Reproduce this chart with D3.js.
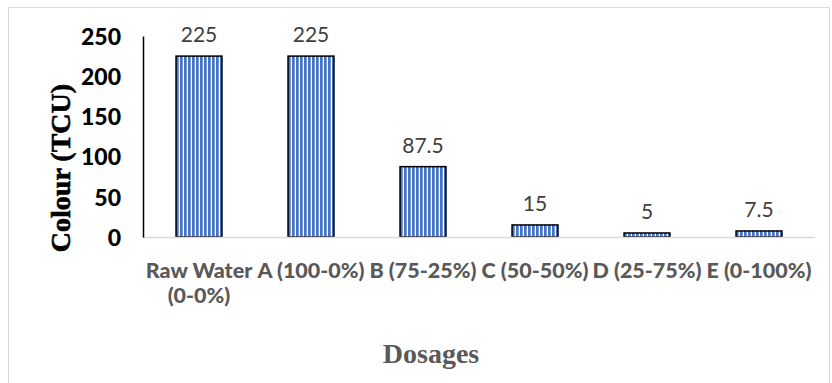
<!DOCTYPE html>
<html>
<head>
<meta charset="utf-8">
<script src="https://cdn.jsdelivr.net/npm/d3@7"></script>
<style>
  html, body { margin: 0; padding: 0; background: #fff; }
  svg { display: block; }
</style>
</head>
<body>
<svg id="chart" width="832" height="383"></svg>
<script>
// Colour readings per dosage mix
const categories = [["Raw Water", "(0-0%)"], ["A (100-0%)"], ["B (75-25%)"], ["C (50-50%)"], ["D (25-75%)"], ["E (0-100%)"]];
const colourTCU = [225, 225, 87.5, 15, 5, 7.5];
const valueLabels = ["225", "225", "87.5", "15", "5", "7.5"];
const yTicks = [0, 50, 100, 150, 200, 250];

const svg = d3.select("#chart");
const plot = { left: 143, right: 815, top: 36, bottom: 237 };

// Chart area frame
svg.append("rect")
  .attr("x", 8.5).attr("y", 7.5)
  .attr("width", 821).attr("height", 380)
  .attr("fill", "#fff").attr("stroke", "#d9d9d9").attr("stroke-width", 1);

// Vertical stripe fill for the bars
const defs = svg.append("defs");
const pat = defs.append("pattern")
  .attr("id", "stripes")
  .attr("patternUnits", "userSpaceOnUse")
  .attr("width", 4).attr("height", 10)
  .attr("x", 0);
pat.append("rect").attr("width", 4).attr("height", 10).attr("fill", "#ffffff");
pat.append("rect").attr("width", 2.7).attr("height", 10).attr("fill", "#4472C4");

const x = d3.scaleBand()
  .domain(d3.range(categories.length))
  .range([plot.left, plot.right])
  .paddingInner(0.59)
  .paddingOuter(0.295);

const y = d3.scaleLinear()
  .domain([0, 250])
  .range([plot.bottom, plot.top]);

// Bars
svg.append("g").selectAll("rect")
  .data(colourTCU)
  .join("rect")
  .attr("x", (d, i) => x(i))
  .attr("y", d => y(d))
  .attr("width", x.bandwidth())
  .attr("height", d => y(0) - y(d))
  .attr("fill", "url(#stripes)")
  .attr("stroke", "#000")
  .attr("stroke-width", 1.5);

// Category baseline
svg.append("line")
  .attr("x1", plot.left).attr("x2", plot.right)
  .attr("y1", y(0) + 0.5).attr("y2", y(0) + 0.5)
  .attr("stroke", "#d9d9d9").attr("stroke-width", 1.5);

// Value axis
const yAxis = d3.axisLeft(y).tickValues(yTicks).tickSize(0).tickPadding(22);
const gy = svg.append("g")
  .attr("transform", `translate(${plot.left},0)`)
  .call(yAxis);
gy.select(".domain").attr("stroke", "#000").attr("stroke-width", 1.5);
gy.selectAll("text")
  .attr("font-family", "Lato, 'Noto Sans', sans-serif")
  .attr("font-weight", "900")
  .attr("font-size", "23px")
  .attr("fill", "#000")
  .attr("dy", "0.36em");

// Value labels above bars
svg.append("g").selectAll("text")
  .data(colourTCU)
  .join("text")
  .attr("x", (d, i) => x(i) + x.bandwidth() / 2)
  .attr("y", d => y(d) - 14)
  .attr("text-anchor", "middle")
  .attr("font-family", "Lato, 'Noto Sans', sans-serif")
  .attr("font-size", "21px")
  .attr("fill", "#404040")
  .text((d, i) => valueLabels[i]);

// Category labels
const cat = svg.append("g").selectAll("text")
  .data(categories)
  .join("text")
  .attr("x", (d, i) => x(i) + x.bandwidth() / 2)
  .attr("y", 278)
  .attr("text-anchor", "middle")
  .attr("font-family", "Lato, 'Noto Sans', sans-serif")
  .attr("font-weight", "900")
  .attr("font-size", "21.5px")
  .attr("fill", "#595959");
cat.selectAll("tspan")
  .data(d => d)
  .join("tspan")
  .attr("x", function () { return this.parentNode.getAttribute("x"); })
  .attr("dy", (d, i) => i === 0 ? 0 : 25)
  .text(d => d);

// Axis titles
svg.append("text")
  .attr("transform", `translate(70,168) rotate(-90)`)
  .attr("text-anchor", "middle")
  .attr("font-family", "'Liberation Serif', 'DejaVu Serif', serif")
  .attr("font-weight", "bold")
  .attr("font-size", "28px")
  .attr("fill", "#000")
  .attr("stroke", "#000")
  .attr("stroke-width", 0.6)
  .text("Colour (TCU)");

svg.append("text")
  .attr("x", (plot.left + plot.right) / 2 - 48)
  .attr("y", 363)
  .attr("text-anchor", "middle")
  .attr("font-family", "'Liberation Serif', 'DejaVu Serif', serif")
  .attr("font-weight", "bold")
  .attr("font-size", "28px")
  .attr("fill", "#595959")
  .text("Dosages");
</script>
</body>
</html>
